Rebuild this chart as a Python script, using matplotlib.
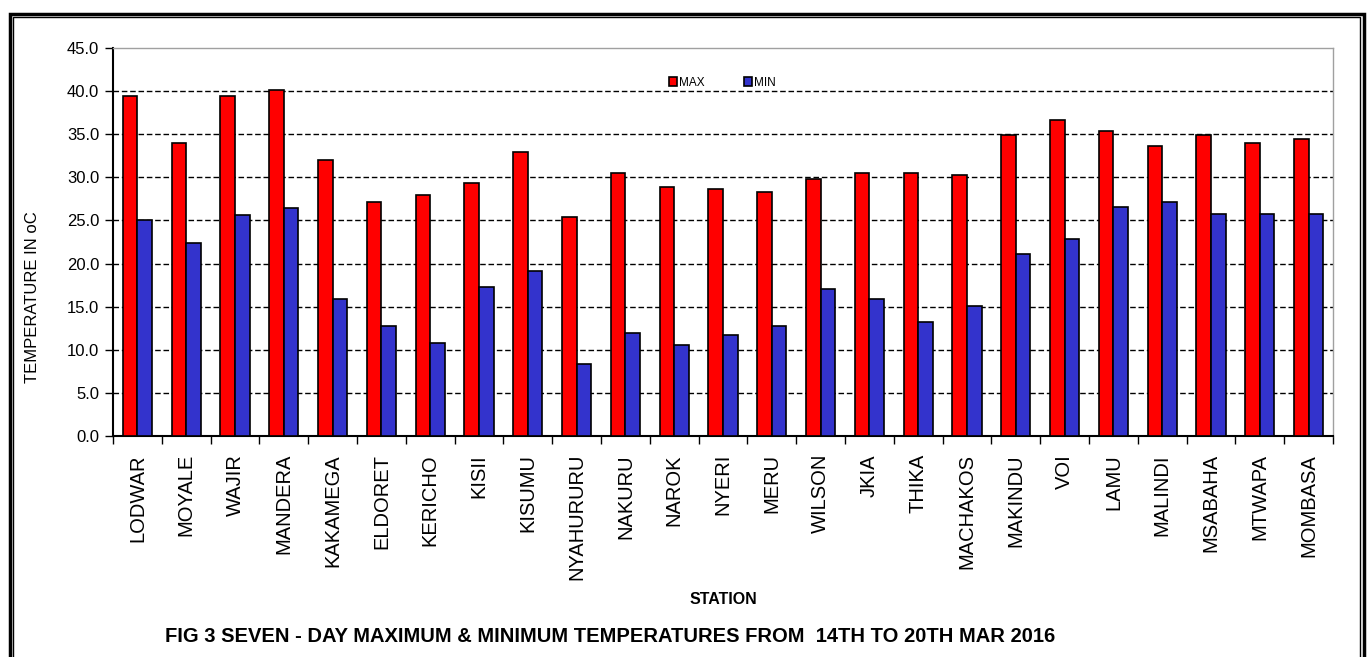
import numpy as np
import matplotlib
matplotlib.use("Agg")
from matplotlib import pyplot as plt
from matplotlib.patches import Rectangle

# ======== data ========
stations = ["LODWAR", "MOYALE", "WAJIR", "MANDERA", "KAKAMEGA", "ELDORET",
            "KERICHO", "KISII", "KISUMU", "NYAHURURU", "NAKURU", "NAROK",
            "NYERI", "MERU", "WILSON", "JKIA", "THIKA", "MACHAKOS",
            "MAKINDU", "VOI", "LAMU", "MALINDI", "MSABAHA", "MTWAPA", "MOMBASA"]
t_max = [39.4, 34.0, 39.4, 40.1, 32.0, 27.1, 28.0, 29.3, 32.9, 25.4, 30.5, 28.9,
         28.7, 28.3, 29.8, 30.5, 30.5, 30.3, 34.9, 36.7, 35.4, 33.6, 34.9, 34.0, 34.5]
t_min = [25.1, 22.4, 25.6, 26.4, 15.9, 12.8, 10.8, 17.3, 19.1, 8.3, 12.0, 10.6,
         11.7, 12.8, 17.0, 15.9, 13.2, 15.1, 21.1, 22.8, 26.6, 27.1, 25.8, 25.8, 25.8]
y_ticks = [0, 5, 10, 15, 20, 25, 30, 35, 40, 45]
# ======================

plt.rcParams['font.family'] = ['Liberation Sans', 'DejaVu Sans']

W, H = 1368, 657
fig = plt.figure(figsize=(W / 100, H / 100), dpi=100)
ax = fig.add_axes([113 / W, 1 - 436 / H, 1220 / W, 388 / H])

x = np.arange(len(stations))
bw = 0.3
ax.bar(x - bw / 2, t_max, bw, color='#FF0000', edgecolor='black', linewidth=1.2, label='MAX', zorder=3)
ax.bar(x + bw / 2, t_min, bw, color='#3333CC', edgecolor='black', linewidth=1.2, label='MIN', zorder=3)

ax.set_xlim(-0.5, len(stations) - 0.5)
ax.set_ylim(0, 45)
ax.set_yticks(y_ticks)
ax.set_yticklabels([f"{v:.1f}" for v in y_ticks], fontsize=12)
for v in y_ticks[1:-1]:
    ax.axhline(v, color='black', lw=1, ls=(0, (4, 2)), zorder=1)

# category labels at centres, tick marks at boundaries
ax.set_xticks(x)
ax.set_xticklabels(stations, rotation=90, fontsize=14.5)
ax.tick_params(axis='x', length=0, pad=13)
ax.set_xticks(np.arange(len(stations) + 1) - 0.5, minor=True)
ax.tick_params(axis='x', which='minor', length=6, width=1, direction='out')
ax.tick_params(axis='y', length=6, width=1, direction='out', pad=4)

for s in ['left', 'bottom']:
    ax.spines[s].set_color('black')
    ax.spines[s].set_linewidth(1.5)
for s in ['top', 'right']:
    ax.spines[s].set_color('#A0A0A0')
    ax.spines[s].set_linewidth(1)

ax.set_ylabel("TEMPERATURE IN oC", fontsize=12)
ax.yaxis.set_label_coords((32 - 113) / 1220, (436 - 297) / 388)
ax.yaxis.label.set_va('center')

leg = ax.legend(loc='upper left', bbox_to_anchor=(545 / 1220, 1 - 18 / 388), ncol=2,
                frameon=False, fontsize=8.5, handlelength=0.7, handleheight=0.7,
                handletextpad=0.2, columnspacing=3.3)

fig.text(723 / W, 1 - 600 / H, "STATION", ha='center', va='center',
         fontsize=11.5, fontweight='bold')
fig.text(610 / W, 1 - 636 / H,
         "FIG 3 SEVEN - DAY MAXIMUM & MINIMUM TEMPERATURES FROM  14TH TO 20TH MAR 2016",
         ha='center', va='center', fontsize=14.5, fontweight='bold')

# double frame round the chart
fig.patches.append(Rectangle((9.5 / W, -0.05), (1364 - 9.5) / W, 1.05 - 13.5 / H,
                             transform=fig.transFigure, fill=False, ec='black', lw=2.5))
fig.patches.append(Rectangle((13 / W, -0.05), (1360 - 13) / W, 1.05 - 17 / H,
                             transform=fig.transFigure, fill=False, ec='black', lw=1))

fig.savefig("out.png", dpi=100)
